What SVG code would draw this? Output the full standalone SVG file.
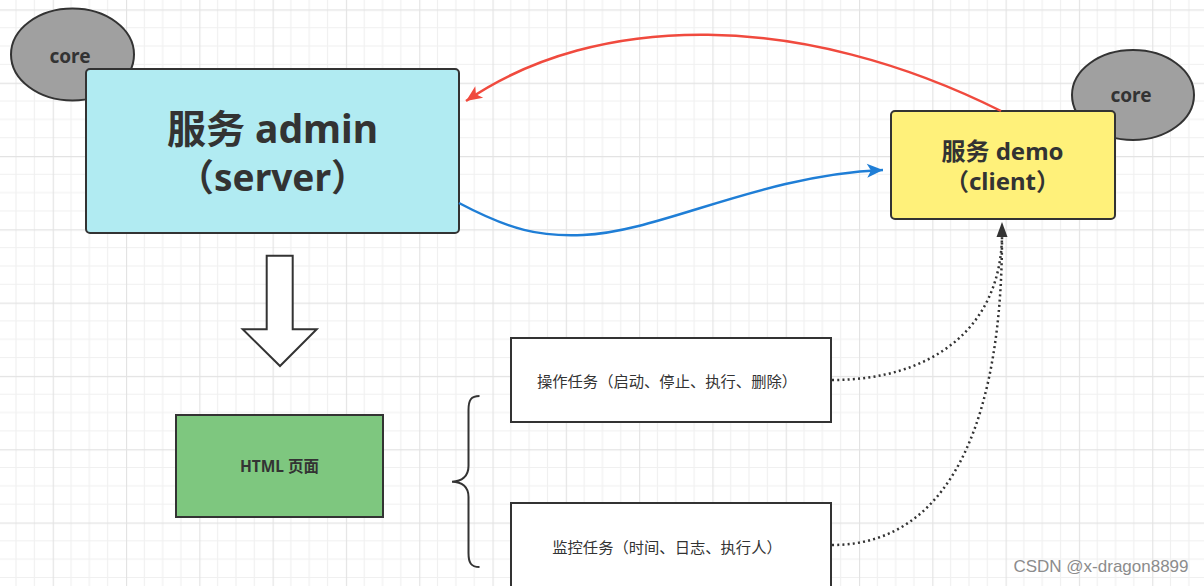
<svg xmlns="http://www.w3.org/2000/svg" width="1204" height="586" viewBox="0 0 1204 586">
<defs>
<pattern id="grid" patternUnits="userSpaceOnUse" x="52.7" y="9.4" width="73.3" height="73.3">
<path d="M18.33,0V73.3M36.65,0V73.3M54.98,0V73.3M0,18.33H73.3M0,36.65H73.3M0,54.98H73.3" stroke="#f0f0f0" stroke-width="1.2" fill="none"/>
<path d="M0.5,0V73.3M0,0.5H73.3" stroke="#e3e3e3" stroke-width="1.3" fill="none"/>
</pattern>
<marker id="arrRed" markerUnits="userSpaceOnUse" markerWidth="20" markerHeight="16" viewBox="0 0 20 16" refX="18" refY="8" orient="auto">
<path d="M2,1 L18,8 L2,15 L6,8 Z" fill="#f04a3e"/>
</marker>
<marker id="arrBlue" markerUnits="userSpaceOnUse" markerWidth="20" markerHeight="16" viewBox="0 0 20 16" refX="18" refY="8" orient="auto">
<path d="M2,1 L18,8 L2,15 L6,8 Z" fill="#1f7ed6"/>
</marker>
<marker id="arrBlack" markerUnits="userSpaceOnUse" markerWidth="20" markerHeight="16" viewBox="0 0 20 16" refX="18" refY="8" orient="auto">
<path d="M3,2.5 L18,8 L3,13.5 Z" fill="#333333"/>
</marker>
</defs>
<style>
.core{fill:#a0a0a0;stroke:#333;stroke-width:2}
.t{font-family:"Noto Sans","Noto Sans CJK SC",sans-serif;fill:#333;text-anchor:middle}
.b{font-weight:bold}
.box{stroke:#333;stroke-width:2}
.dot{fill:none;stroke:#333;stroke-width:2.5;stroke-dasharray:2 3.2}
</style>
<rect width="1204" height="586" fill="#ffffff"/>
<rect width="1204" height="586" fill="url(#grid)"/>

<g id="core-left">
<ellipse class="core" cx="72.5" cy="54.5" rx="61.5" ry="46"/>
<text class="t b" x="70" y="63" font-size="19">core</text>
</g>
<g id="core-right">
<ellipse class="core" cx="1133" cy="95" rx="61" ry="45"/>
<text class="t b" x="1131" y="102" font-size="19">core</text>
</g>

<g id="admin">
<rect class="box" x="86" y="69" width="373" height="164" rx="4" fill="#b1ebf2"/>
<text class="t b" x="272.5" y="143" font-size="39">服务 admin</text>
<text class="t b" x="272.5" y="191" font-size="37">（server）</text>
</g>

<g id="demo">
<rect class="box" x="891" y="111" width="224" height="108" rx="4" fill="#fff17a"/>
<text class="t b" x="1002.5" y="160" font-size="24">服务 demo</text>
<text class="t b" x="1002.5" y="190" font-size="24">（client）</text>
</g>

<g id="down-arrow">
<path d="M266.7,255.7 H292.7 V329.3 H316.7 L280,366 L242.7,329.3 H266.7 Z" fill="#ffffff" stroke="#333" stroke-width="2" stroke-linejoin="miter"/>
</g>

<g id="html">
<rect class="box" x="176" y="415" width="207" height="102" fill="#7ec77f"/>
<text class="t b" x="279.5" y="472" font-size="15.5">HTML 页面</text>
</g>

<g id="brace">
<path d="M479.5,396 C471,396 468.5,400 468.5,410 V466 C468.5,476 462,481.7 452,481.7 C462,481.7 468.5,487 468.5,497 V553 C468.5,563 471,567 479.5,567" fill="none" stroke="#333" stroke-width="2"/>
</g>

<g id="task-ops">
<rect class="box" x="511" y="338" width="320" height="84" fill="#ffffff"/>
<text class="t" x="667" y="387" font-size="15.3">操作任务（启动、停止、执行、删除）</text>
</g>

<g id="task-monitor">
<rect class="box" x="511" y="503" width="320" height="100" fill="#ffffff"/>
<text class="t" x="667" y="553" font-size="15.3">监控任务（时间、日志、执行人）</text>
</g>

<g id="connectors">
<path d="M1001,111 C801,11 598,11 466,101" fill="none" stroke="#f04a3e" stroke-width="2.5" marker-end="url(#arrRed)"/>
<path d="M459,203 C510,230 540,237 583,235 C660,232 760,175 883,170" fill="none" stroke="#1f7ed6" stroke-width="2.5" marker-end="url(#arrBlue)"/>
<path class="dot" d="M832,380 C930,380 1000,330 1002,237"/>
<path class="dot" d="M832,545 C960,545 1002,400 1002,237"/>
<path d="M1002,236 V222" stroke="none" fill="none" marker-end="url(#arrBlack)"/>
</g>

<text x="1101" y="572" font-family="'Liberation Sans',sans-serif" font-size="17" fill="#8c8c8c" text-anchor="middle">CSDN @x-dragon8899</text>
</svg>
